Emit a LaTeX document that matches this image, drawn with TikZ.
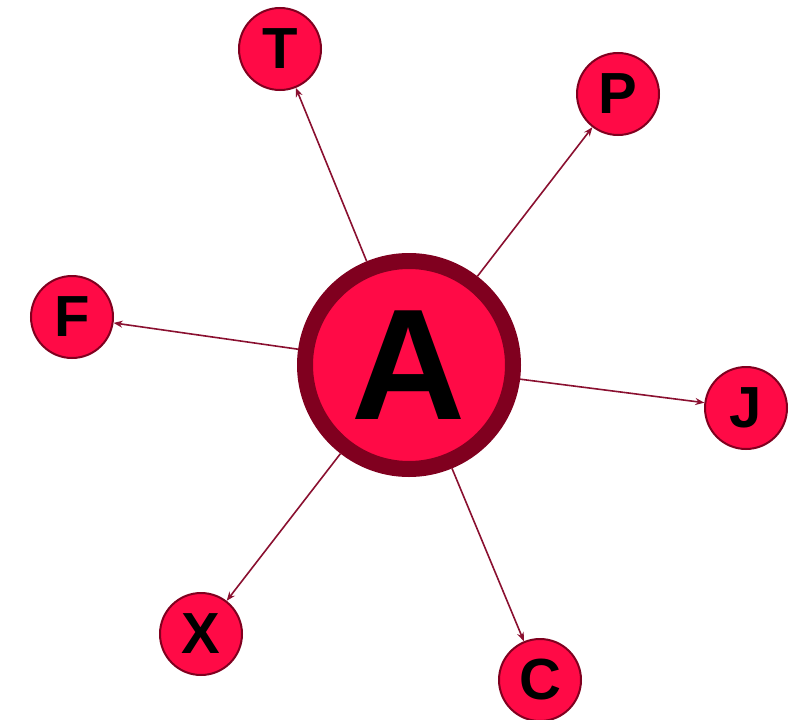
\documentclass[tikz,border=0pt]{standalone}
\usepackage{fontspec}
\setmainfont{Liberation Sans}
\usetikzlibrary{arrows.meta}
\definecolor{nodefill}{HTML}{FF0A46}
\definecolor{ringcol}{HTML}{80001F}
\definecolor{edgecol}{HTML}{8A1030}
\tikzset{
  leaf/.style={circle, fill=nodefill, draw=ringcol, line width=2pt, minimum size=82pt, inner sep=0pt,
    font=\fontsize{58}{58}\selectfont\bfseries},
  hub/.style={circle, fill=nodefill, draw=ringcol, line width=16pt, minimum size=208pt, inner sep=0pt,
    font=\fontsize{158}{158}\selectfont\bfseries},
  edge/.style={draw=edgecol, line width=1.6pt, -{Stealth[length=9pt,width=7pt]}}
}
\begin{document}
\begin{tikzpicture}[x=1pt,y=1pt]
\useasboundingbox (0,0) rectangle (790,-720);
\node[leaf] (T) at (280,-49) {T};
\node[leaf] (P) at (618,-94) {P};
\node[leaf] (F) at (72,-317) {F};
\node[leaf] (J) at (746,-408) {J};
\node[leaf] (X) at (201,-634) {X};
\node[leaf] (C) at (540,-680) {C};
\node[hub] (A) at (409,-365) {A};
\foreach \n in {T,P,F,J,X,C} \draw[edge] (A) -- (\n);
\end{tikzpicture}
\end{document}
